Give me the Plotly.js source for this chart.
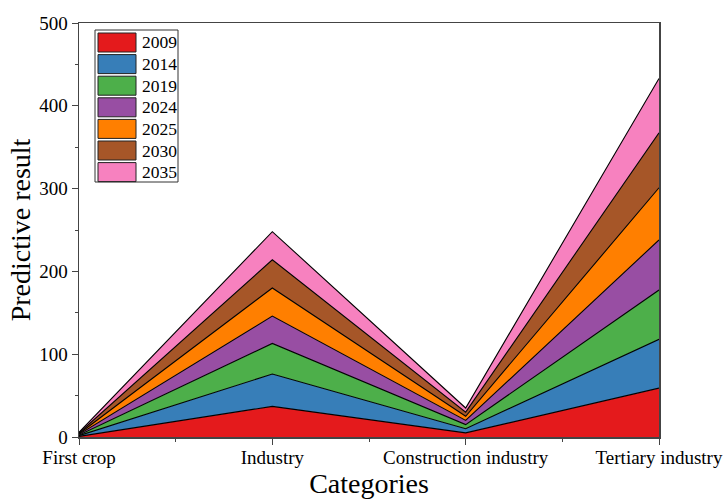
<!DOCTYPE html>
<html><head><meta charset="utf-8">
<script src="https://cdn.plot.ly/plotly-3.0.1.min.js"></script>
<style>body{margin:0;background:#fff}#chart{width:724px;height:500px}</style>
</head><body><div id="chart"></div>
<script>
const categories = ["First crop", "Industry", "Construction industry", "Tertiary industry"];
const seriesNames = ["2009", "2014", "2019", "2024", "2025", "2030", "2035"];
const s2009 = [0.8, 37, 5, 59];
const s2014 = [0.8, 39, 5, 59];
const s2019 = [0.8, 37, 5, 59.5];
const s2024 = [0.8, 33, 5, 60.5];
const s2025 = [0.8, 34, 5, 63];
const s2030 = [0.8, 34, 5, 66.5];
const s2035 = [0.8, 34, 5, 65.5];
const seriesValues = [s2009, s2014, s2019, s2024, s2025, s2030, s2035];
const colors = ["#e41a1c", "#377eb8", "#4daf4a", "#984ea3", "#ff7f00", "#a65628", "#f781bf"];
const yTicks = [0, 100, 200, 300, 400, 500];

const xIdx = categories.map((c, i) => i);
const traces = seriesNames.map((n, i) => ({
  type: "scatter", mode: "lines", name: n,
  x: xIdx, y: seriesValues[i],
  stackgroup: "one",
  line: {color: "#000", width: 1.1},
  fillcolor: colors[i],
  showlegend: false
}));

// plot area in pixels: x 79..659, y 23..437
const L = 79, R = 659, T = 23, B = 437;
const px = X => (X - L) / (R - L);
const py = Y => (B - Y) / (B - T);

const shapes = [{type: "rect", xref: "paper", yref: "paper",
  x0: px(95), x1: px(178), y0: py(182), y1: py(30),
  line: {color: "#333", width: 1}, fillcolor: "#fff", layer: "above"}];
const annotations = [];
seriesNames.forEach((n, i) => {
  const top = 33 + 21.6 * i;
  shapes.push({type: "rect", xref: "paper", yref: "paper",
    x0: px(98), x1: px(136), y0: py(top + 19), y1: py(top),
    line: {color: "#222", width: 1}, fillcolor: colors[i], layer: "above"});
  annotations.push({xref: "paper", yref: "paper", x: px(140), y: py(top + 9.5),
    xanchor: "left", yanchor: "middle", text: n, showarrow: false,
    font: {size: 17.5, color: "#000"}});
});

const layout = {
  width: 724, height: 500,
  margin: {l: L, r: 724 - R, t: T, b: 500 - B},
  paper_bgcolor: "#fff", plot_bgcolor: "#fff",
  font: {family: "Liberation Serif, Times New Roman, serif", size: 19, color: "#000"},
  showlegend: false,
  shapes: shapes, annotations: annotations,
  xaxis: {range: [0, 3], tickvals: xIdx, ticktext: categories,
    showgrid: false, zeroline: false,
    showline: true, linecolor: "#444", linewidth: 1.5, mirror: true,
    ticks: "outside", ticklen: 6, tickcolor: "#444", ticklabelstandoff: -3,
    minor: {dtick: 0.5, ticks: "outside", ticklen: 3, tickcolor: "#444"},
    title: {text: "Categories", font: {size: 28}, standoff: 6}},
  yaxis: {range: [0, 500], tickvals: yTicks, showgrid: false, zeroline: false,
    showline: true, linecolor: "#444", linewidth: 1.5, mirror: true,
    ticks: "outside", ticklen: 6, tickcolor: "#444",
    minor: {dtick: 50, ticks: "outside", ticklen: 3, tickcolor: "#444"},
    title: {text: "Predictive result", font: {size: 28}, standoff: 0}}
};
Plotly.newPlot("chart", traces, layout, {displayModeBar: false, staticPlot: true});
</script></body></html>
